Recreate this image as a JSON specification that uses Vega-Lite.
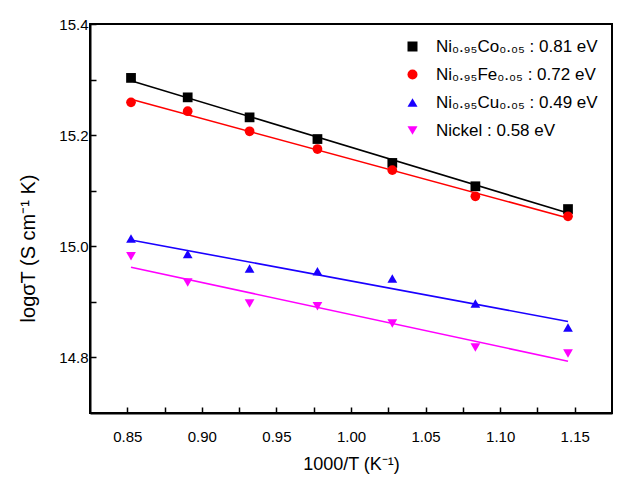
{
  "$schema": "https://vega.github.io/schema/vega-lite/v6.json",
  "width": 522,
  "height": 389,
  "autosize": {"type": "none"},
  "padding": {"left": 90, "top": 24, "right": 29, "bottom": 78},
  "background": "white",
  "config": {
    "font": "Liberation Sans",
    "view": {"stroke": "black", "strokeWidth": 2},
    "axis": {
      "grid": false,
      "ticks": true,
      "domainColor": "black",
      "domainWidth": 2,
      "tickColor": "black",
      "tickWidth": 1.5,
      "labelColor": "black",
      "labelFont": "Liberation Sans",
      "labelFontSize": 15,
      "titleFont": "Liberation Sans",
      "titleFontSize": 18,
      "titleFontWeight": "normal",
      "titleColor": "black"
    }
  },
  "datasets": {
    "pts": [
      {"x": 0.8525, "y": 15.303, "s": "Ni₀.₉₅Co₀.₀₅ : 0.81 eV"},
      {"x": 0.8905, "y": 15.268, "s": "Ni₀.₉₅Co₀.₀₅ : 0.81 eV"},
      {"x": 0.932, "y": 15.232, "s": "Ni₀.₉₅Co₀.₀₅ : 0.81 eV"},
      {"x": 0.9775, "y": 15.193, "s": "Ni₀.₉₅Co₀.₀₅ : 0.81 eV"},
      {"x": 1.0277, "y": 15.150, "s": "Ni₀.₉₅Co₀.₀₅ : 0.81 eV"},
      {"x": 1.0834, "y": 15.108, "s": "Ni₀.₉₅Co₀.₀₅ : 0.81 eV"},
      {"x": 1.1455, "y": 15.067, "s": "Ni₀.₉₅Co₀.₀₅ : 0.81 eV"},
      {"x": 0.8525, "y": 15.259, "s": "Ni₀.₉₅Fe₀.₀₅ : 0.72 eV"},
      {"x": 0.8905, "y": 15.243, "s": "Ni₀.₉₅Fe₀.₀₅ : 0.72 eV"},
      {"x": 0.932, "y": 15.207, "s": "Ni₀.₉₅Fe₀.₀₅ : 0.72 eV"},
      {"x": 0.9775, "y": 15.175, "s": "Ni₀.₉₅Fe₀.₀₅ : 0.72 eV"},
      {"x": 1.0277, "y": 15.137, "s": "Ni₀.₉₅Fe₀.₀₅ : 0.72 eV"},
      {"x": 1.0834, "y": 15.090, "s": "Ni₀.₉₅Fe₀.₀₅ : 0.72 eV"},
      {"x": 1.1455, "y": 15.054, "s": "Ni₀.₉₅Fe₀.₀₅ : 0.72 eV"},
      {"x": 0.8525, "y": 15.014, "s": "Ni₀.₉₅Cu₀.₀₅ : 0.49 eV"},
      {"x": 0.8905, "y": 14.986, "s": "Ni₀.₉₅Cu₀.₀₅ : 0.49 eV"},
      {"x": 0.932, "y": 14.960, "s": "Ni₀.₉₅Cu₀.₀₅ : 0.49 eV"},
      {"x": 0.9775, "y": 14.955, "s": "Ni₀.₉₅Cu₀.₀₅ : 0.49 eV"},
      {"x": 1.0277, "y": 14.942, "s": "Ni₀.₉₅Cu₀.₀₅ : 0.49 eV"},
      {"x": 1.0834, "y": 14.897, "s": "Ni₀.₉₅Cu₀.₀₅ : 0.49 eV"},
      {"x": 1.1455, "y": 14.854, "s": "Ni₀.₉₅Cu₀.₀₅ : 0.49 eV"},
      {"x": 0.8525, "y": 14.982, "s": "Nickel : 0.58 eV"},
      {"x": 0.8905, "y": 14.935, "s": "Nickel : 0.58 eV"},
      {"x": 0.932, "y": 14.897, "s": "Nickel : 0.58 eV"},
      {"x": 0.9775, "y": 14.892, "s": "Nickel : 0.58 eV"},
      {"x": 1.0277, "y": 14.861, "s": "Nickel : 0.58 eV"},
      {"x": 1.0834, "y": 14.818, "s": "Nickel : 0.58 eV"},
      {"x": 1.1455, "y": 14.807, "s": "Nickel : 0.58 eV"}
    ]
  },
  "data": {"name": "pts"},
  "encoding": {
    "x": {
      "field": "x",
      "type": "quantitative",
      "scale": {"domain": [0.825, 1.175], "zero": false, "nice": false},
      "axis": {
        "title": "1000/T (K⁻¹)",
        "values": [0.85, 0.875, 0.9, 0.925, 0.95, 0.975, 1.0, 1.025, 1.05, 1.075, 1.1, 1.125, 1.15],
        "labelExpr": "round(datum.value*40) % 2 == 0 ? format(datum.value, '.2f') : ''",
        "tickSize": -6,
        "labelPadding": 22,
        "titlePadding": 11
      }
    },
    "y": {
      "field": "y",
      "type": "quantitative",
      "scale": {"domain": [14.7, 15.4], "zero": false, "nice": false},
      "axis": {
        "title": "logσT (S cm⁻¹ K)",
        "values": [14.8, 14.9, 15.0, 15.1, 15.2, 15.3, 15.4],
        "labelExpr": "round(datum.value*10) % 2 == 0 ? format(datum.value, '.1f') : ''",
        "tickSize": -6,
        "labelPadding": 8,
        "titlePadding": 20,
        "titleFontSize": 20,
        "titleY": 224
      }
    }
  },
  "resolve": {"legend": {"stroke": "independent"}},
  "layer": [
    {
      "transform": [{"regression": "y", "on": "x", "groupby": ["s"]}],
      "mark": {"type": "line", "strokeWidth": 1.6},
      "encoding": {
        "stroke": {
          "field": "s",
          "type": "nominal",
          "scale": {
            "domain": ["Ni₀.₉₅Co₀.₀₅ : 0.81 eV", "Ni₀.₉₅Fe₀.₀₅ : 0.72 eV", "Ni₀.₉₅Cu₀.₀₅ : 0.49 eV", "Nickel : 0.58 eV"],
            "range": ["#000000", "#ff0000", "#1a00ff", "#ff00ff"]
          },
          "legend": null
        }
      }
    },
    {
      "mark": {"type": "point", "filled": true, "opacity": 1, "size": 95},
      "encoding": {
        "color": {
          "field": "s",
          "type": "nominal",
          "scale": {
            "domain": ["Ni₀.₉₅Co₀.₀₅ : 0.81 eV", "Ni₀.₉₅Fe₀.₀₅ : 0.72 eV", "Ni₀.₉₅Cu₀.₀₅ : 0.49 eV", "Nickel : 0.58 eV"],
            "range": ["#000000", "#ff0000", "#1a00ff", "#ff00ff"]
          },
          "legend": {
            "title": null,
            "orient": "top-right",
            "offset": 14,
            "labelFontSize": 17,
            "labelFont": "Liberation Sans",
            "labelColor": "black",
            "symbolSize": 100,
            "symbolOpacity": 1,
            "rowPadding": 10,
            "labelOffset": 15,
            "labelLimit": 300
          }
        },
        "shape": {
          "field": "s",
          "type": "nominal",
          "scale": {
            "domain": ["Ni₀.₉₅Co₀.₀₅ : 0.81 eV", "Ni₀.₉₅Fe₀.₀₅ : 0.72 eV", "Ni₀.₉₅Cu₀.₀₅ : 0.49 eV", "Nickel : 0.58 eV"],
            "range": ["square", "circle", "triangle-up", "triangle-down"]
          }
        }
      }
    }
  ]
}
